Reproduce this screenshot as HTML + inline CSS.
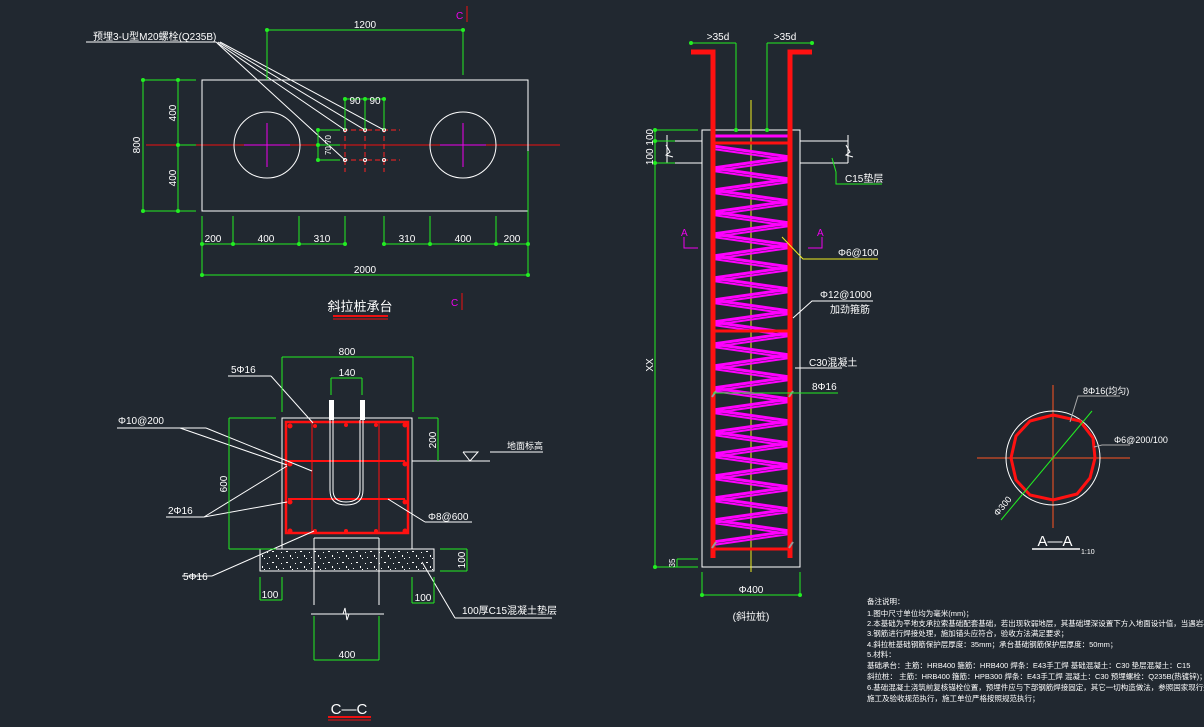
<!DOCTYPE html>
<html><head><meta charset="utf-8"><style>
html,body{margin:0;padding:0;background:#212830;}
svg{display:block;}
text{font-family:"Liberation Sans","Noto Sans CJK SC",sans-serif;fill:#fff;}
</style></head><body>
<svg width="1204" height="727" viewBox="0 0 1204 727" xmlns="http://www.w3.org/2000/svg">
<rect width="1204" height="727" fill="#212830"/>
<defs>
<pattern id="spk" width="14" height="11" patternUnits="userSpaceOnUse">
<rect x="1" y="2" width="1" height="1" fill="#fff"/><rect x="6" y="1" width="2" height="1" fill="#fff"/><rect x="10" y="5" width="1" height="2" fill="#fff"/><rect x="3" y="7" width="1" height="1" fill="#fff"/><rect x="12" y="8" width="1" height="1" fill="#fff"/>
</pattern>
</defs>

<!-- ===== TOP PLAN ===== -->
<g fill="none" stroke-width="1">
<line x1="146" y1="145" x2="560" y2="145" stroke="#e11"/>
<rect x="202" y="80" width="326" height="131" stroke="#fff"/>
<circle cx="267" cy="145" r="33" stroke="#fff"/>
<circle cx="463" cy="145" r="33" stroke="#fff"/>
<line x1="244" y1="145" x2="290" y2="145" stroke="#e0e"/><line x1="267" y1="123" x2="267" y2="167" stroke="#e0e"/>
<line x1="440" y1="145" x2="486" y2="145" stroke="#e0e"/><line x1="463" y1="123" x2="463" y2="167" stroke="#e0e"/>
<g stroke="#f22" stroke-dasharray="5,3">
<line x1="335" y1="130" x2="400" y2="130"/><line x1="335" y1="160" x2="400" y2="160"/>
<line x1="345" y1="120" x2="345" y2="172"/><line x1="365" y1="120" x2="365" y2="172"/><line x1="384" y1="120" x2="384" y2="172"/>
</g>
<g stroke="#fff"><circle cx="345" cy="130" r="1.5"/><circle cx="365" cy="130" r="1.5"/><circle cx="384" cy="130" r="1.5"/><circle cx="345" cy="160" r="1.5"/><circle cx="365" cy="160" r="1.5"/><circle cx="384" cy="160" r="1.5"/></g>
<g stroke="#fff"><line x1="86" y1="42" x2="216" y2="42"/>
<line x1="216" y1="42" x2="345" y2="130"/><line x1="218" y1="42" x2="365" y2="130"/><line x1="220" y1="42" x2="384" y2="130"/><line x1="217" y1="43" x2="345" y2="160"/></g>
<g stroke="#2e2">
<line x1="267" y1="30" x2="463" y2="30"/><line x1="267" y1="30" x2="267" y2="80"/><line x1="463" y1="30" x2="463" y2="75"/>
<line x1="143" y1="80" x2="143" y2="211"/><line x1="178" y1="80" x2="178" y2="211"/>
<line x1="143" y1="80" x2="196" y2="80"/><line x1="143" y1="211" x2="196" y2="211"/><line x1="178" y1="145" x2="196" y2="145"/>
<line x1="345" y1="99" x2="384" y2="99"/><line x1="345" y1="99" x2="345" y2="130"/><line x1="365" y1="99" x2="365" y2="130"/><line x1="384" y1="99" x2="384" y2="130"/>
<line x1="318" y1="130" x2="318" y2="160"/><line x1="318" y1="130" x2="340" y2="130"/><line x1="318" y1="145" x2="340" y2="145"/><line x1="318" y1="160" x2="340" y2="160"/>
<line x1="202" y1="244" x2="345" y2="244"/><line x1="384" y1="244" x2="528" y2="244"/>
<line x1="202" y1="216" x2="202" y2="275"/><line x1="233" y1="216" x2="233" y2="244"/><line x1="299" y1="216" x2="299" y2="244"/><line x1="345" y1="216" x2="345" y2="244"/>
<line x1="384" y1="216" x2="384" y2="244"/><line x1="430" y1="216" x2="430" y2="244"/><line x1="496" y1="216" x2="496" y2="244"/><line x1="528" y1="151" x2="528" y2="275"/>
<line x1="202" y1="275" x2="528" y2="275"/>
</g>
<g fill="#2e2"><circle cx="267" cy="30" r="2"/><circle cx="463" cy="30" r="2"/><circle cx="143" cy="80" r="2"/><circle cx="178" cy="80" r="2"/><circle cx="143" cy="211" r="2"/><circle cx="178" cy="211" r="2"/><circle cx="178" cy="145" r="2"/><circle cx="202" cy="244" r="2"/><circle cx="233" cy="244" r="2"/><circle cx="299" cy="244" r="2"/><circle cx="345" cy="244" r="2"/><circle cx="384" cy="244" r="2"/><circle cx="430" cy="244" r="2"/><circle cx="496" cy="244" r="2"/><circle cx="528" cy="244" r="2"/><circle cx="202" cy="275" r="2"/><circle cx="528" cy="275" r="2"/><circle cx="345" cy="99" r="2"/><circle cx="365" cy="99" r="2"/><circle cx="384" cy="99" r="2"/><circle cx="318" cy="130" r="2"/><circle cx="318" cy="145" r="2"/><circle cx="318" cy="160" r="2"/></g>
<line x1="467" y1="6" x2="467" y2="22" stroke="#e11"/><line x1="462" y1="293" x2="462" y2="310" stroke="#e11"/>
<line x1="333" y1="316" x2="388" y2="316" stroke="#e11" stroke-width="2"/><line x1="333" y1="319" x2="388" y2="319" stroke="#e11"/>
</g>
<g font-size="10">
<text x="93" y="40">预埋3-U型M20螺栓(Q235B)</text>
<text x="365" y="28" text-anchor="middle">1200</text>
<text x="355" y="104" text-anchor="middle">90</text><text x="375" y="104" text-anchor="middle">90</text>
<text x="213" y="242" text-anchor="middle">200</text><text x="266" y="242" text-anchor="middle">400</text><text x="322" y="242" text-anchor="middle">310</text>
<text x="407" y="242" text-anchor="middle">310</text><text x="463" y="242" text-anchor="middle">400</text><text x="512" y="242" text-anchor="middle">200</text>
<text x="365" y="273" text-anchor="middle">2000</text>
<text transform="translate(140,145) rotate(-90)" text-anchor="middle">800</text>
<text transform="translate(176,113) rotate(-90)" text-anchor="middle">400</text>
<text transform="translate(176,178) rotate(-90)" text-anchor="middle">400</text>
<text transform="translate(331,145) rotate(-90)" text-anchor="middle" font-size="8">70 70</text>
<text x="456" y="19" style="fill:#e0e">C</text><text x="451" y="306" style="fill:#e0e">C</text>
<text x="360" y="311" text-anchor="middle" font-size="13">斜拉桩承台</text>
</g>

<!-- ===== C-C SECTION ===== -->
<g fill="none" stroke-width="1">
<rect x="260" y="549" width="174" height="22" fill="url(#spk)" stroke="#fff"/>
<rect x="282" y="418" width="130" height="131" stroke="#fff" fill="#212830"/>
<line x1="314" y1="538" x2="314" y2="605" stroke="#fff"/><line x1="379" y1="538" x2="379" y2="605" stroke="#fff"/><line x1="314" y1="538" x2="379" y2="538" stroke="#fff"/>
<line x1="311" y1="614" x2="384" y2="614" stroke="#fff"/><polyline points="343,614 345,608 347,620 349,614" stroke="#fff"/>
<g stroke="#f11">
<rect x="286" y="422" width="122" height="111" stroke-width="2.5"/>
<line x1="288" y1="461" x2="405" y2="461" stroke-width="2"/><line x1="288" y1="499" x2="405" y2="499" stroke-width="2"/>
<line x1="312" y1="422" x2="312" y2="533"/><line x1="379" y1="422" x2="379" y2="533"/>
</g>
<g fill="#f11" stroke="none"><circle cx="290" cy="426" r="2.5"/><circle cx="315" cy="426" r="2"/><circle cx="346" cy="425" r="2"/><circle cx="376" cy="425" r="2"/><circle cx="405" cy="425" r="2.5"/><circle cx="290" cy="464" r="2.5"/><circle cx="405" cy="464" r="2.5"/><circle cx="290" cy="502" r="2.5"/><circle cx="405" cy="502" r="2.5"/><circle cx="290" cy="531" r="2.5"/><circle cx="315" cy="531" r="2"/><circle cx="346" cy="531" r="2"/><circle cx="376" cy="531" r="2"/><circle cx="405" cy="531" r="2.5"/></g>
<rect x="329" y="400" width="5" height="20" fill="#fff" stroke="none"/><rect x="360" y="400" width="5" height="20" fill="#fff" stroke="none"/>
<path d="M330,420 V490 Q330,505 346,505 Q363,505 363,490 V420" stroke="#fff"/>
<path d="M333,420 V490 Q333,502 346,502 Q360,502 360,490 V420" stroke="#fff"/>
<g stroke="#fff">
<line x1="228" y1="376" x2="271" y2="376"/><line x1="271" y1="376" x2="313" y2="423"/>
<line x1="117" y1="428" x2="206" y2="428"/><line x1="180" y1="428" x2="287" y2="465"/><line x1="206" y1="428" x2="312" y2="471"/>
<line x1="166" y1="517" x2="204" y2="517"/><line x1="204" y1="517" x2="287" y2="466"/><line x1="204" y1="517" x2="287" y2="502"/>
<line x1="182" y1="576" x2="212" y2="576"/><line x1="212" y1="576" x2="314" y2="531"/>
<line x1="425" y1="522" x2="472" y2="522"/><line x1="425" y1="522" x2="388" y2="499"/>
<line x1="455" y1="618" x2="552" y2="618"/><line x1="455" y1="618" x2="422" y2="562"/>
<line x1="412" y1="461" x2="490" y2="461"/><polyline points="463,452 478,452 470,461 463,452"/><line x1="490" y1="452" x2="543" y2="452"/>
</g>
<g stroke="#2e2">
<line x1="282" y1="357" x2="413" y2="357"/><line x1="282" y1="357" x2="282" y2="412"/><line x1="413" y1="357" x2="413" y2="412"/>
<line x1="331" y1="378" x2="362" y2="378"/><line x1="331" y1="378" x2="331" y2="395"/><line x1="362" y1="378" x2="362" y2="395"/>
<line x1="229" y1="418" x2="229" y2="549"/><line x1="229" y1="418" x2="276" y2="418"/><line x1="229" y1="549" x2="276" y2="549"/>
<line x1="438" y1="418" x2="438" y2="461"/><line x1="418" y1="418" x2="438" y2="418"/>
<line x1="467" y1="549" x2="467" y2="571"/><line x1="440" y1="549" x2="467" y2="549"/><line x1="440" y1="571" x2="467" y2="571"/>
<line x1="260" y1="600" x2="282" y2="600"/><line x1="260" y1="577" x2="260" y2="600"/><line x1="282" y1="577" x2="282" y2="600"/>
<line x1="412" y1="603" x2="434" y2="603"/><line x1="412" y1="577" x2="412" y2="603"/><line x1="434" y1="577" x2="434" y2="603"/>
<line x1="314" y1="660" x2="379" y2="660"/><line x1="314" y1="616" x2="314" y2="660"/><line x1="379" y1="616" x2="379" y2="660"/>
</g>
<line x1="328" y1="717" x2="371" y2="717" stroke="#e11" stroke-width="2"/><line x1="328" y1="720" x2="371" y2="720" stroke="#e11"/>
</g>
<g font-size="10">
<text x="347" y="355" text-anchor="middle">800</text><text x="347" y="376" text-anchor="middle">140</text>
<text x="231" y="373">5Φ16</text><text x="118" y="424">Φ10@200</text><text x="168" y="514">2Φ16</text><text x="183" y="580">5Φ16</text>
<text x="428" y="520">Φ8@600</text><text x="462" y="614">100厚C15混凝土垫层</text><text x="507" y="449" font-size="9">地面标高</text>
<text transform="translate(227,484) rotate(-90)" text-anchor="middle">600</text>
<text transform="translate(436,440) rotate(-90)" text-anchor="middle">200</text>
<text transform="translate(465,560) rotate(-90)" text-anchor="middle">100</text>
<text x="270" y="598" text-anchor="middle">100</text><text x="423" y="601" text-anchor="middle">100</text>
<text x="347" y="658" text-anchor="middle">400</text>
<text x="349" y="714" text-anchor="middle" font-size="15">C—C</text>
</g>

<!-- ===== PILE ELEVATION ===== -->
<g fill="none" stroke-width="1">
<rect x="702" y="130" width="98" height="437" stroke="#fff"/>
<g stroke="#fff">
<line x1="672" y1="141" x2="702" y2="141"/><line x1="672" y1="163" x2="702" y2="163"/>
<line x1="800" y1="141" x2="848" y2="141"/><line x1="800" y1="163" x2="848" y2="163"/>
<polyline points="666,145 670,152 666,155 673,157"/><line x1="667" y1="135" x2="667" y2="163"/>
<polyline points="846,145 850,152 846,155 853,157"/><line x1="848" y1="135" x2="848" y2="163"/>
</g>
<line x1="751" y1="100" x2="751" y2="572" stroke="#ee2"/>
<polyline stroke="#f0f" stroke-width="3" points="713,146 790,157 713,168 790,179 713,190 790,201 713,212 790,223 713,234 790,245 713,256 790,267 713,278 790,289 713,300 790,311 713,322 790,333 713,344 790,355 713,366 790,377 713,388 790,399 713,410 790,421 713,432 790,443 713,454 790,465 713,476 790,487 713,498 790,509 713,520 790,531 713,542"/>
<polyline stroke="#f0f" stroke-width="2" points="713,149 790,160 713,171 790,182 713,193 790,204 713,215 790,226 713,237 790,248 713,259 790,270 713,281 790,292 713,303 790,314 713,325 790,336 713,347 790,358 713,369 790,380 713,391 790,402 713,413 790,424 713,435 790,446 713,457 790,468 713,479 790,490 713,501 790,512 713,523 790,534 713,545"/>
<line x1="713" y1="136" x2="790" y2="136" stroke="#f0f" stroke-width="3"/>
<g stroke="#f11">
<polyline points="691,52 713,52 713,558" stroke-width="5"/>
<polyline points="812,52 790,52 790,558" stroke-width="5"/>
<line x1="713" y1="143" x2="790" y2="143" stroke-width="3"/>
<line x1="713" y1="331" x2="790" y2="331" stroke-width="3"/>
<line x1="713" y1="549" x2="790" y2="549" stroke-width="3"/>
</g>
<g stroke="#999" stroke-width="2"><line x1="712" y1="397" x2="716" y2="391"/><line x1="789" y1="397" x2="793" y2="391"/><line x1="712" y1="548" x2="716" y2="542"/><line x1="789" y1="548" x2="793" y2="542"/></g>
<g stroke="#2e2">
<line x1="691" y1="43" x2="736" y2="43"/><line x1="736" y1="43" x2="736" y2="130"/>
<line x1="767" y1="43" x2="812" y2="43"/><line x1="767" y1="43" x2="767" y2="130"/>
<line x1="655" y1="130" x2="655" y2="567"/><line x1="655" y1="130" x2="698" y2="130"/><line x1="655" y1="141" x2="675" y2="141"/><line x1="655" y1="163" x2="675" y2="163"/><line x1="655" y1="567" x2="698" y2="567"/>
<line x1="677" y1="559" x2="698" y2="559"/><line x1="677" y1="559" x2="677" y2="567"/>
<line x1="702" y1="572" x2="702" y2="595"/><line x1="800" y1="572" x2="800" y2="595"/><line x1="702" y1="595" x2="800" y2="595"/>
<polyline points="832,158 836,172 836,184 882,184"/>
<line x1="713" y1="393" x2="838" y2="393"/>
</g>
<g fill="#2e2" stroke="none"><circle cx="691" cy="43" r="2"/><circle cx="812" cy="43" r="2"/><circle cx="736" cy="130" r="2"/><circle cx="767" cy="130" r="2"/><circle cx="655" cy="130" r="2"/><circle cx="655" cy="141" r="2"/><circle cx="655" cy="163" r="2"/><circle cx="655" cy="567" r="2"/><circle cx="702" cy="595" r="2"/><circle cx="800" cy="595" r="2"/></g>
<polyline points="684,237 684,248 698,248" stroke="#e0e"/><polyline points="822,237 822,248 808,248" stroke="#e0e"/>
<polyline points="782,237 803,259 878,259" stroke="#ee2"/>
<g stroke="#fff"><polyline points="793,318 812,301 873,301"/><line x1="795" y1="368" x2="842" y2="368"/></g>
</g>
<g font-size="10">
<text x="718" y="40" text-anchor="middle">&gt;35d</text><text x="785" y="40" text-anchor="middle">&gt;35d</text>
<text transform="translate(653,147) rotate(-90)" text-anchor="middle">100 100</text>
<text transform="translate(653,365) rotate(-90)" text-anchor="middle">XX</text>
<text transform="translate(675,563) rotate(-90)" text-anchor="middle" font-size="8">35</text>
<text x="845" y="182">C15垫层</text><text x="838" y="256">Φ6@100</text>
<text x="820" y="298">Φ12@1000</text><text x="830" y="313">加劲箍筋</text>
<text x="809" y="366">C30混凝土</text><text x="812" y="390">8Φ16</text>
<text x="751" y="593" text-anchor="middle">Φ400</text><text x="751" y="620" text-anchor="middle">(斜拉桩)</text>
<text x="681" y="236" style="fill:#e0e">A</text><text x="817" y="236" style="fill:#e0e">A</text>
</g>

<!-- ===== A-A ===== -->
<g fill="none">
<line x1="977" y1="458" x2="1130" y2="458" stroke="#f52"/><line x1="1053" y1="385" x2="1053" y2="528" stroke="#f52"/>
<circle cx="1053" cy="458" r="47" stroke="#fff"/>
<polygon points="1053,415 1080,421 1093,438 1095,458 1090,478 1077,494 1053,500 1030,495 1016,480 1011,458 1016,436 1030,421" stroke="#f11" stroke-width="3"/>
<line x1="1001" y1="520" x2="1092" y2="411" stroke="#2e2"/>
<polyline points="1070,422 1078,396 1120,396" stroke="#aaa"/><polyline points="1094,447 1102,445 1130,445" stroke="#aaa"/>
<line x1="1032" y1="549" x2="1080" y2="549" stroke="#fff" stroke-width="1.5"/>
</g>
<g font-size="9">
<text x="1083" y="394">8Φ16(均匀)</text><text x="1114" y="443">Φ6@200/100</text>
<text transform="translate(1005,508) rotate(-50)" text-anchor="middle">Φ300</text>
<text x="1055" y="546" text-anchor="middle" font-size="15">A—A</text><text x="1081" y="554" font-size="7">1:10</text>
</g>

<!-- ===== NOTES ===== -->
<g font-size="7.5">
<text x="867" y="604">备注说明：</text>
<text x="867" y="616">1.图中尺寸单位均为毫米(mm)；</text>
<text x="867" y="626">2.本基础为平地支承拉索基础配套基础，若出现软弱地层，其基础埋深设置下方入地面设计值，当遇岩石必须处理时，基础底面积及换填不得小于1.5m</text>
<text x="867" y="636">3.钢筋进行焊接处理，施加锚头应符合，验收方法满足要求；</text>
<text x="867" y="647">4.斜拉桩基础钢筋保护层厚度：35mm；承台基础钢筋保护层厚度：50mm；</text>
<text x="867" y="657">5.材料：</text>
<text x="867" y="668">基础承台：主筋：HRB400  箍筋：HRB400     焊条：E43手工焊  基础混凝土：C30  垫层混凝土：C15</text>
<text x="867" y="679">斜拉桩：  主筋：HRB400  箍筋：HPB300     焊条：E43手工焊  混凝土：C30  预埋螺栓：Q235B(热镀锌)；</text>
<text x="867" y="690">6.基础混凝土浇筑前复核锚栓位置，预埋件应与下部钢筋焊接固定，其它一切构造做法，参照国家现行规范</text>
<text x="867" y="701">施工及验收规范执行，施工单位严格按照规范执行；</text>
</g>
</svg>
</body></html>
